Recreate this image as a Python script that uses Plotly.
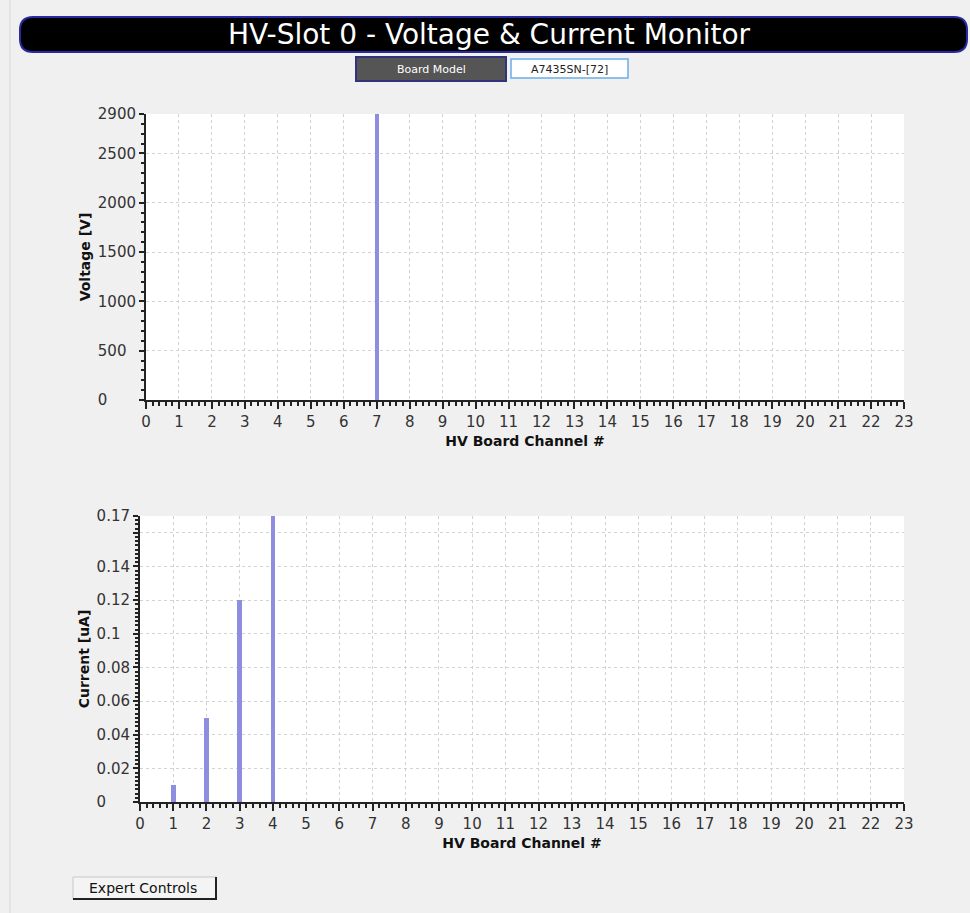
import plotly.graph_objects as go

channels = [0, 1, 2, 3, 4, 5, 6, 7, 8, 9, 10, 11, 12, 13, 14, 15, 16, 17, 18, 19, 20, 21, 22, 23]
voltage_v = [0, 0, 0, 0, 0, 0, 0, 2900, 0, 0, 0, 0, 0, 0, 0, 0, 0, 0, 0, 0, 0, 0, 0, 0]
current_ua = [0, 0.01, 0.05, 0.12, 0.17, 0, 0, 0, 0, 0, 0, 0, 0, 0, 0, 0, 0, 0, 0, 0, 0, 0, 0, 0]

v_tickvals = [0, 500, 1000, 1500, 2000, 2500, 2900]
v_ticktext = ["0", "500", "1000", "1500", "2000", "2500", "2900"]
i_tickvals = [0, 0.02, 0.04, 0.06, 0.08, 0.1, 0.12, 0.14, 0.16, 0.17]
i_ticktext = ["0", "0.02", "0.04", "0.06", "0.08", "0.1", "0.12", "0.14", "", "0.17"]

title_text = "HV-Slot 0 - Voltage &amp; Current Monitor"
board_label = "Board Model"
board_value = "A7435SN-[72]"
button_text = "Expert Controls"

W, H = 970, 913
FONT = "DejaVu Sans"
BAR = "#8e8ee0"
FIG_SP = "\u2007"   # figure space: same width as a digit
PUNC_SP = "\u2008"  # punctuation space: same width as a period


def left_align(labels):
    # pad with fixed-width spaces so the labels read as left-aligned like the reference
    def width(s):
        return sum(1.0 if c.isdigit() else 0.5 for c in s)
    wmax = max(width(s) for s in labels)
    out = []
    for s in labels:
        if not s:
            out.append(s)
            continue
        missing = wmax - width(s)
        pad = ""
        if missing % 1:
            pad += PUNC_SP
            missing -= 0.5
        pad += FIG_SP * int(missing)
        out.append(s + pad)
    return out


def px(x):
    return x / W


def py(y):
    return 1 - y / H


fig = go.Figure()
fig.add_trace(go.Bar(x=channels, y=voltage_v, width=0.13, marker=dict(color=BAR, line=dict(width=0)),
                     xaxis="x", yaxis="y", showlegend=False))
fig.add_trace(go.Bar(x=channels, y=current_ua, width=0.14, marker=dict(color=BAR, line=dict(width=0)),
                     xaxis="x2", yaxis="y2", showlegend=False))

tickfont = dict(family=FONT, size=15, color="#333333")
titlefont = dict(family=FONT, size=14, color="#111111", weight="bold")
grid = dict(showgrid=True, gridcolor="#d2d2d2", griddash="dot", gridwidth=1)


def xaxis(domain, anchor):
    return dict(domain=domain, anchor=anchor, range=[0, 23], tickmode="array", tickvals=channels,
                ticks="outside", ticklen=7, tickwidth=1.5, tickcolor="#222", showline=True,
                linecolor="#222", linewidth=2, tickfont=tickfont, zeroline=False, automargin=False,
                minor=dict(dtick=0.2, tick0=0, ticks="outside", ticklen=4, tickcolor="#222", showgrid=False),
                title=dict(text="HV Board Channel #", font=titlefont, standoff=6), **grid)


def yaxis(domain, anchor, rng, tv, tt, mdt):
    return dict(domain=domain, anchor=anchor, range=rng, tickmode="array", tickvals=tv, ticktext=left_align(tt),
                ticks="outside", ticklen=5, tickwidth=1.5, tickcolor="#222", showline=True,
                linecolor="#222", linewidth=2, tickfont=tickfont, zeroline=False, automargin=False,
                minor=dict(dtick=mdt, tick0=0, ticks="outside", ticklen=3, tickcolor="#222", showgrid=False),
                **grid)


ya = yaxis([py(400), py(114)], "x", [0, 2900], v_tickvals, v_ticktext, 100)
ya["title"] = dict(text="Voltage [V]", font=titlefont, standoff=4)
yb = yaxis([py(802), py(516)], "x2", [0, 0.17], i_tickvals, i_ticktext, 0.0025)
yb["title"] = dict(text="Current [uA]", font=titlefont, standoff=4)

shapes = []
shapes.append(dict(type="line", xref="paper", yref="paper", x0=px(10), x1=px(10), y0=0, y1=1,
                   line=dict(color="#d8d8d8", width=1)))
x0, x1, y0, y1 = 20, 967, 17, 52
r = 13
path = (f"M {px(x0 + r)},{py(y0)} L {px(x1 - r)},{py(y0)} "
        f"Q {px(x1)},{py(y0)} {px(x1)},{py(y0 + r)} L {px(x1)},{py(y1 - r)} "
        f"Q {px(x1)},{py(y1)} {px(x1 - r)},{py(y1)} L {px(x0 + r)},{py(y1)} "
        f"Q {px(x0)},{py(y1)} {px(x0)},{py(y1 - r)} L {px(x0)},{py(y0 + r)} "
        f"Q {px(x0)},{py(y0)} {px(x0 + r)},{py(y0)} Z")
shapes.append(dict(type="path", xref="paper", yref="paper", path=path, fillcolor="#000000",
                   line=dict(color="#2a2aa0", width=2)))
shapes.append(dict(type="rect", xref="paper", yref="paper", x0=px(356), x1=px(506), y0=py(81), y1=py(57),
                   fillcolor="#555555", line=dict(color="#33337a", width=2)))
shapes.append(dict(type="rect", xref="paper", yref="paper", x0=px(511), x1=px(628), y0=py(78), y1=py(59),
                   fillcolor="#ffffff", line=dict(color="#6aaee6", width=1.5)))
shapes.append(dict(type="rect", xref="paper", yref="paper", x0=px(73), x1=px(216), y0=py(899), y1=py(877),
                   fillcolor="#f4f4f4", line=dict(color="#c8c8c8", width=1)))
shapes.append(dict(type="line", xref="paper", yref="paper", x0=px(73), x1=px(217), y0=py(899), y1=py(899),
                   line=dict(color="#222222", width=2)))
shapes.append(dict(type="line", xref="paper", yref="paper", x0=px(216), x1=px(216), y0=py(877), y1=py(900),
                   line=dict(color="#222222", width=2)))

annotations = [
    dict(text=title_text, xref="paper", yref="paper", x=px(489), y=py(35), showarrow=False,
         font=dict(family=FONT, size=28, color="#ffffff"), xanchor="center", yanchor="middle"),
    dict(text=board_label, xref="paper", yref="paper", x=px(431), y=py(69), showarrow=False,
         font=dict(family=FONT, size=11, color="#ffffff"), xanchor="center", yanchor="middle"),
    dict(text=board_value, xref="paper", yref="paper", x=px(569), y=py(69), showarrow=False,
         font=dict(family=FONT, size=11, color="#222222"), xanchor="center", yanchor="middle"),
    dict(text=button_text, xref="paper", yref="paper", x=px(143), y=py(888), showarrow=False,
         font=dict(family=FONT, size=14, color="#111111"), xanchor="center", yanchor="middle"),
]

fig.update_layout(
    width=W, height=H, margin=dict(l=0, r=0, t=0, b=0, autoexpand=False),
    paper_bgcolor="#f0f0f0", plot_bgcolor="#ffffff",
    xaxis=xaxis([px(146), px(904)], "y"),
    yaxis=ya,
    xaxis2=xaxis([px(140), px(904)], "y2"),
    yaxis2=yb,
    bargap=0, shapes=shapes, annotations=annotations, showlegend=False,
    font=dict(family=FONT),
)

fig.write_html("out.html", config={"displayModeBar": False},
               post_script="document.body.style.margin='0';document.body.style.overflow='hidden';")
